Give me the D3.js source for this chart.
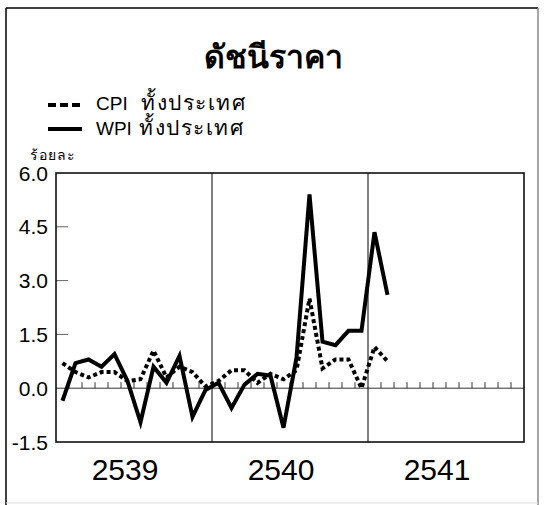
<!DOCTYPE html>
<html>
<head>
<meta charset="utf-8">
<script src="https://cdn.jsdelivr.net/npm/d3@7"></script>
<style>
  html, body { margin: 0; padding: 0; background: #fff; }
  svg { display: block; font-family: "Liberation Sans", Arial, sans-serif; }
</style>
</head>
<body>
<svg id="chart" width="544" height="505"></svg>
<script>
// ---- data ----
const title = "ดัชนีราคา";
const yUnit = "ร้อยละ";
const seriesCodes = ["CPI", "WPI"];
const seriesSuffix = "ทั้งประเทศ";
const years = ["2539", "2540", "2541"];
const yTicks = [-1.5, 0.0, 1.5, 3.0, 4.5, 6.0];
// monthly % change, Jan 2539 .. Feb 2541
const cpi = [0.7, 0.45, 0.3, 0.45, 0.45, 0.2, 0.25, 1.05, 0.3, 0.6, 0.45, 0.05,
             0.2, 0.5, 0.5, 0.15, 0.4, 0.25, 0.5, 2.5, 0.55, 0.8, 0.8, 0.0,
             1.15, 0.75];
const wpi = [-0.35, 0.7, 0.8, 0.6, 0.95, 0.2, -0.95, 0.6, 0.15, 0.9, -0.8, -0.05,
             0.15, -0.55, 0.1, 0.4, 0.35, -1.1, 0.85, 5.4, 1.3, 1.2, 1.6, 1.6,
             4.35, 2.6];

// ---- layout ----
const svg = d3.select("#chart");
const L = 56, R = 524, T = 173, B = 442;
const x = d3.scaleLinear().domain([0, 36]).range([L, R]);
const y = d3.scaleLinear().domain([-1.5, 6]).range([B, T]);

// outer frame
svg.append("line").attr("x1", 6).attr("y1", 8).attr("x2", 6).attr("y2", 505).attr("stroke", "#000").attr("stroke-width", 1.5);
svg.append("line").attr("x1", 6).attr("y1", 8).attr("x2", 538).attr("y2", 8).attr("stroke", "#000").attr("stroke-width", 1.5);
svg.append("line").attr("x1", 538).attr("y1", 8).attr("x2", 538).attr("y2", 505).attr("stroke", "#888").attr("stroke-width", 1.5);
svg.append("line").attr("x1", 6).attr("y1", 503).attr("x2", 538).attr("y2", 503).attr("stroke", "#ddd").attr("stroke-width", 1);

// title
svg.append("text").attr("x", 273).attr("y", 68).attr("text-anchor", "middle")
  .attr("font-size", 32).attr("font-weight", "bold").text(title);

// legend
const lg = svg.append("g");
lg.append("line").attr("x1", 48).attr("x2", 80).attr("y1", 105).attr("y2", 105)
  .attr("stroke", "#000").attr("stroke-width", 4).attr("stroke-dasharray", "8,4");
lg.append("line").attr("x1", 48).attr("x2", 82).attr("y1", 129).attr("y2", 129)
  .attr("stroke", "#000").attr("stroke-width", 4);
const legY = [110, 135], thaiX = [141, 139];
seriesCodes.forEach((c, i) => {
  lg.append("text").attr("x", 96).attr("y", legY[i]).attr("font-size", 19).text(c);
  lg.append("text").attr("x", thaiX[i]).attr("y", legY[i]).attr("font-size", 21)
    .attr("letter-spacing", 1.5).text(seriesSuffix);
});

// unit
svg.append("text").attr("x", 30).attr("y", 160).attr("font-size", 14)
  .attr("letter-spacing", 1).text(yUnit);

// y axis labels
svg.append("g").selectAll("text").data(yTicks).join("text")
  .attr("x", 48).attr("y", d => y(d)).attr("dy", "0.36em")
  .attr("text-anchor", "end").attr("font-size", 21)
  .text(d => d3.format(".1f")(d).replace("−", "-"));

// y inner ticks
svg.append("g").selectAll("line").data(yTicks.filter(d => d > -1.5 && d < 6 && d !== 0)).join("line")
  .attr("x1", L).attr("x2", L + 12).attr("y1", d => y(d)).attr("y2", d => y(d))
  .attr("stroke", "#666").attr("stroke-width", 1);

// zero line
svg.append("line").attr("x1", L).attr("x2", R).attr("y1", y(0)).attr("y2", y(0))
  .attr("stroke", "#333").attr("stroke-width", 1);
// month ticks on zero line
svg.append("g").selectAll("line").data(d3.range(1, 36).filter(m => m % 12 !== 0)).join("line")
  .attr("x1", d => x(d)).attr("x2", d => x(d)).attr("y1", y(0)).attr("y2", y(0) - 6)
  .attr("stroke", "#333").attr("stroke-width", 1);

// year separators
svg.append("g").selectAll("line").data([12, 24]).join("line")
  .attr("x1", d => x(d)).attr("x2", d => x(d)).attr("y1", T).attr("y2", B)
  .attr("stroke", "#000").attr("stroke-width", 1);

// plot border
svg.append("rect").attr("x", L).attr("y", T).attr("width", R - L).attr("height", B - T)
  .attr("fill", "none").attr("stroke", "#000").attr("stroke-width", 1.5);

// x labels
svg.append("g").selectAll("text").data(years).join("text")
  .attr("x", (d, i) => x(i * 12 + 6) - 9).attr("y", 480).attr("text-anchor", "middle")
  .attr("font-size", 30).text(d => d);

// lines
const line = d3.line().x((d, i) => x(i + 0.5)).y(d => y(d));
svg.append("path").datum(wpi).attr("d", line).attr("fill", "none")
  .attr("stroke", "#000").attr("stroke-width", 4).attr("stroke-linejoin", "miter");
svg.append("path").datum(cpi).attr("d", line).attr("fill", "none")
  .attr("stroke", "#000").attr("stroke-width", 4).attr("stroke-dasharray", "4,3");
</script>
</body>
</html>
